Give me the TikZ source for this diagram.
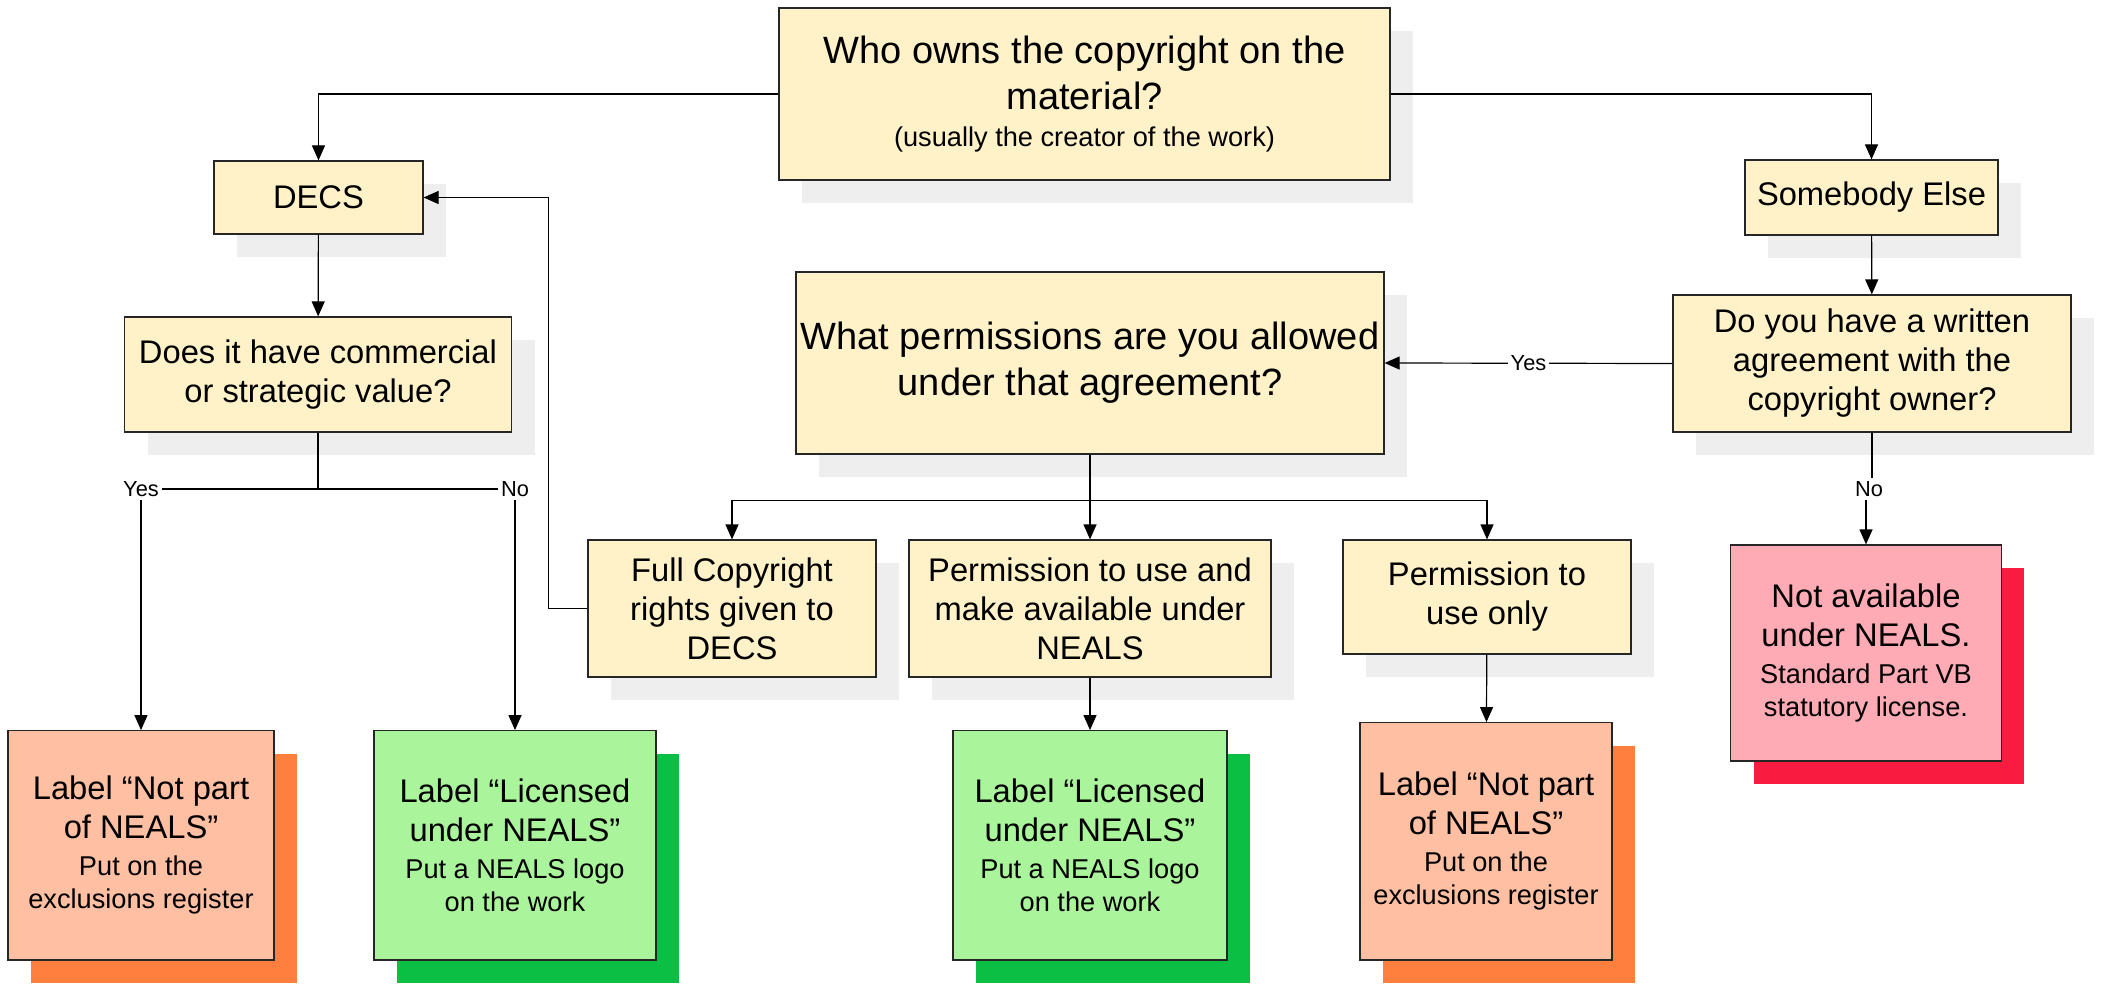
\documentclass[tikz,border=0pt]{standalone}
\usepackage{fontspec}
\setmainfont{Liberation Sans}
\usetikzlibrary{arrows.meta,shadows}
\definecolor{yel}{HTML}{FFF2C8}
\definecolor{yelsh}{HTML}{EEEEEE}
\definecolor{org}{HTML}{FFBFA2}
\definecolor{orgsh}{HTML}{FF7F3F}
\definecolor{grn}{HTML}{AAF59B}
\definecolor{grnsh}{HTML}{0ABF44}
\definecolor{pnk}{HTML}{FFABB6}
\definecolor{pnksh}{HTML}{FA1C40}
\newcommand\lgtxt{\fontsize{19.0}{23.0}\selectfont}
\newcommand\mdtxt{\fontsize{16.35}{19.5}\selectfont}
\newcommand\smtxt{\fontsize{13.6}{16.5}\selectfont}
\newcommand\gapsm{\vspace{2pt}}
\tikzset{
  box/.style 2 args={draw=black!85, line width=0.6pt, inner ysep=0pt, inner xsep=-10pt,
    align=flush center, text width=#1pt+20pt, minimum width=#1pt, minimum height=#2pt, font=\mdtxt},
  ybox/.style={fill=yel, general shadow={fill=yelsh, shadow xshift=11.5pt, shadow yshift=-11.5pt}},
  obox/.style={fill=org, general shadow={fill=orgsh, shadow xshift=11.5pt, shadow yshift=-11.5pt}},
  gbox/.style={fill=grn, general shadow={fill=grnsh, shadow xshift=11.5pt, shadow yshift=-11.5pt}},
  rbox/.style={fill=pnk, general shadow={fill=pnksh, shadow xshift=11.5pt, shadow yshift=-11.5pt}},
  lbl/.style={font=\fontsize{10.9}{12}\selectfont, fill=white, inner sep=1.5pt},
  conn/.style={draw=black, line width=0.6pt},
  arr/.style={conn, -{Triangle[length=7.5pt,width=6.5pt]}}
}
\begin{document}
\begin{tikzpicture}[x=0.5pt,y=-0.5pt]
\useasboundingbox (0,0) rectangle (2101,984);

% top question
\node[box={305.5}{86},ybox] (who) at (1084.5,94)
  {{\lgtxt Who owns the copyright on the\\material?\par}\gapsm{\smtxt (usually the creator of the work)\par}};

% left branch
\node[box={104.5}{36.5},ybox] (decs) at (318.5,197.5) {DECS\par};
\node[box={193.5}{57.5},ybox] (does) at (318,374.5)
  {Does it have commercial\\or strategic value?\par};

% right branch
\node[box={126.5}{37.5},ybox] (else) at (1871.5,197.5) {Somebody Else\par};
\node[box={199}{68.5},ybox] (written) at (1872,363.5)
  {Do you have a written\\agreement with the\\copyright owner?\par};

% middle
\node[box={294}{91},ybox,font=\lgtxt] (what) at (1090,363)
  {What permissions are you allowed\\under that agreement?\par};
\node[box={144}{68.5},ybox] (full) at (732,608.5)
  {Full Copyright\\rights given to\\DECS\par};
\node[box={181}{68.5},ybox] (make) at (1090,608.5)
  {Permission to use and\\make available under\\NEALS\par};
\node[box={144}{57},ybox] (only) at (1487,597)
  {Permission to\\use only\par};

% outcomes
\node[box={133}{114.6},obox] (or1) at (141,845.3)
  {{\mdtxt Label “Not part\\of NEALS”\par}\gapsm{\smtxt Put on the\\exclusions register\par}};
\node[box={141}{114.6},gbox] (gr1) at (515,845.3)
  {{\mdtxt Label “Licensed\\under NEALS”\par}\gapsm{\smtxt Put a NEALS logo\\on the work\par}};
\node[box={137}{114.6},gbox] (gr2) at (1090,845.3)
  {{\mdtxt Label “Licensed\\under NEALS”\par}\gapsm{\smtxt Put a NEALS logo\\on the work\par}};
\node[box={126}{118.6},obox] (or2) at (1486,841.3)
  {{\mdtxt Label “Not part\\of NEALS”\par}\gapsm{\smtxt Put on the\\exclusions register\par}};
\node[box={135.3}{108},rbox] (red) at (1866,653)
  {{\mdtxt Not available\\under NEALS.\par}\gapsm{\smtxt Standard Part VB\\statutory license.\par}};

% labels
\node[lbl] (yes1) at (141,489) {Yes};
\node[lbl] (no1) at (515,489) {No};
\node[lbl] (no2) at (1869,489) {No};

% connectors
\draw[arr] (who.west) -| (decs.north);
\draw[arr] (who.east) -| (else.north);
\draw[arr] (decs) -- (does);
\draw[arr] (else) -- (written);
\draw[arr] (written.west) -- node[lbl, midway] {Yes} (what.east);

\draw[conn] (does.south) -- (does.south |- yes1);
\draw[conn] (yes1) -- (no1);
\draw[arr] (yes1) -- (or1);
\draw[arr] (no1) -- (gr1);

\draw[arr] (full.west) -- ++(-39,0) |- (decs.east);

\draw[arr] (what.south) -- ++(0,46) -| (full.north);
\draw[arr] (what.south) -- ++(0,46) -| (only.north);
\draw[arr] (what.south) -- (make.north);
\draw[arr] (make) -- (gr2);
\draw[arr] (only) -- (or2);

\draw[conn] (written.south) -- (written.south |- no2.north);
\draw[arr] (red.north |- no2.south) -- (red.north);
\end{tikzpicture}
\end{document}
